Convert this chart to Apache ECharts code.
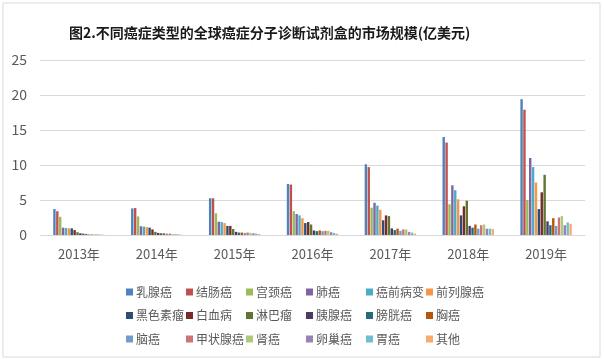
<!DOCTYPE html>
<html><head><meta charset="utf-8">
<script src="https://cdn.jsdelivr.net/npm/echarts@6/dist/echarts.min.js"></script>
<style>html,body{margin:0;padding:0;background:#fff}#c{width:604px;height:359px}</style>
</head><body><div id="c"></div>
<script>
const categories = ['2013年','2014年','2015年','2016年','2017年','2018年','2019年'];
const seriesNames = ['乳腺癌','结肠癌','宫颈癌','肺癌','癌前病变','前列腺癌','黑色素瘤','白血病','淋巴瘤','胰腺癌','膀胱癌','胸癌','脑癌','甲状腺癌','肾癌','卵巢癌','胃癌','其他'];
const breast   = [3.7, 3.8, 5.25, 7.3, 10.1, 14.0, 19.4];
const colon    = [3.4, 3.85, 5.25, 7.2, 9.7, 13.2, 17.9];
const cervical = [2.6, 2.65, 3.1, 3.4, 3.9, 4.4, 5.0];
const lung     = [1.05, 1.25, 1.9, 3.0, 4.6, 7.1, 11.0];
const precancer= [1.0, 1.2, 1.85, 2.8, 4.2, 6.4, 9.7];
const prostate = [0.95, 1.15, 1.7, 2.4, 3.6, 5.1, 7.5];
const melanoma = [0.95, 1.05, 1.3, 1.7, 2.1, 2.8, 3.7];
const leukemia = [0.7, 0.8, 1.3, 1.85, 2.8, 4.1, 6.1];
const lymphoma = [0.4, 0.45, 0.85, 1.5, 2.7, 4.9, 8.6];
const pancreas = [0.25, 0.3, 0.45, 0.65, 0.95, 1.3, 1.95];
const bladder  = [0.2, 0.25, 0.35, 0.55, 0.7, 1.05, 1.4];
const chest    = [0.15, 0.25, 0.35, 0.65, 0.9, 1.5, 2.4];
const brain    = [0.1, 0.2, 0.3, 0.55, 0.6, 0.9, 1.3];
const thyroid  = [0.1, 0.2, 0.35, 0.6, 0.8, 1.4, 2.5];
const kidney   = [0.1, 0.15, 0.3, 0.6, 0.8, 1.5, 2.7];
const ovary    = [0.08, 0.1, 0.25, 0.4, 0.45, 0.9, 1.4];
const stomach  = [0.06, 0.1, 0.2, 0.3, 0.35, 0.9, 1.8];
const other    = [0.05, 0.05, 0.15, 0.2, 0.2, 0.85, 1.6];
const yTicks = [0, 5, 10, 15, 20, 25];

const seriesData = [breast, colon, cervical, lung, precancer, prostate, melanoma, leukemia, lymphoma,
  pancreas, bladder, chest, brain, thyroid, kidney, ovary, stomach, other];
const colors = ['#4F81BD','#C0504D','#9BBB59','#8064A2','#4BACC6','#F79646','#2C4D75','#772C2A','#5F7530',
  '#4D3B62','#276A7C','#B65708','#729ACA','#CD7371','#AFC97A','#9983B5','#6FBDD1','#F9AB6B'];

const font = 'Noto Sans CJK SC, Noto Sans, sans-serif';
const legends = [];
for (let c = 0; c < 6; c++) {
  legends.push({
    orient: 'vertical', left: 126 + c * 60, top: 285,
    itemWidth: 7, itemHeight: 7, itemGap: 9.5, icon: 'rect',
    padding: 0,
    data: [seriesNames[c], seriesNames[c + 6], seriesNames[c + 12]],
    textStyle: { color: '#595959', fontSize: 12, fontFamily: font, lineHeight: 14, padding: [0,0,0,-2] },
    selectedMode: false
  });
}

const chart = echarts.init(document.getElementById('c'), null, { renderer: 'canvas' });
chart.setOption({
  animation: false,
  color: colors,
  title: {
    text: '图2.不同癌症类型的全球癌症分子诊断试剂盒的市场规模(亿美元)',
    left: 64, top: 21,
    textStyle: { fontSize: 14, fontWeight: 'bold', color: '#1a1a1a', fontFamily: font }
  },
  graphic: [{
    type: 'rect', shape: { x: 3, y: 3, width: 597, height: 354 },
    style: { fill: 'none', stroke: '#d9d9d9', lineWidth: 1 }, silent: true, z: -1
  }],
  legend: legends,
  grid: { left: 40, right: 19, top: 60, bottom: 124, containLabel: false },
  xAxis: {
    type: 'category', data: categories,
    axisLine: { lineStyle: { color: '#d9d9d9' } },
    axisTick: { show: false },
    axisLabel: { color: '#595959', fontSize: 13, fontFamily: font, margin: 13 }
  },
  yAxis: {
    type: 'value', min: yTicks[0], max: yTicks[yTicks.length - 1], interval: 5,
    axisLine: { show: false }, axisTick: { show: false },
    splitLine: { lineStyle: { color: '#d9d9d9' } },
    axisLabel: { color: '#595959', fontSize: 14, fontFamily: font, margin: 13 }
  },
  series: seriesNames.map((n, i) => ({
    name: n, type: 'bar', data: seriesData[i],
    barGap: '20%', barCategoryGap: '34%',
    itemStyle: { color: colors[i] }
  }))
});
</script></body></html>
